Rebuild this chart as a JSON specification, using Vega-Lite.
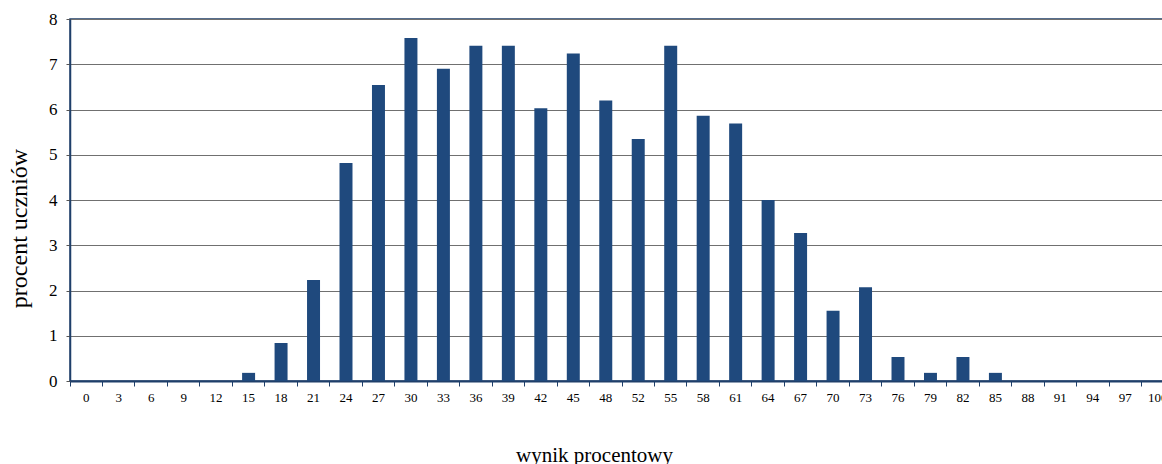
{
  "$schema": "https://vega.github.io/schema/vega-lite/v6.json",
  "autosize": {"type": "none"},
  "padding": {"left": 70, "top": 19, "right": 0, "bottom": 83},
  "width": 1104,
  "height": 362,
  "background": "white",
  "config": {
    "view": {"stroke": "#1F3F6A", "strokeWidth": 1.5},
    "font": "Liberation Serif"
  },
  "data": {
    "values": [
      {"wynik": "0", "procent": 0},
      {"wynik": "3", "procent": 0},
      {"wynik": "6", "procent": 0},
      {"wynik": "9", "procent": 0},
      {"wynik": "12", "procent": 0},
      {"wynik": "15", "procent": 0.18},
      {"wynik": "18", "procent": 0.84},
      {"wynik": "21", "procent": 2.23},
      {"wynik": "24", "procent": 4.82},
      {"wynik": "27", "procent": 6.54},
      {"wynik": "30", "procent": 7.58},
      {"wynik": "33", "procent": 6.9},
      {"wynik": "36", "procent": 7.41},
      {"wynik": "39", "procent": 7.41},
      {"wynik": "42", "procent": 6.03},
      {"wynik": "45", "procent": 7.24},
      {"wynik": "48", "procent": 6.2},
      {"wynik": "52", "procent": 5.35},
      {"wynik": "55", "procent": 7.41},
      {"wynik": "58", "procent": 5.86},
      {"wynik": "61", "procent": 5.69},
      {"wynik": "64", "procent": 4.0},
      {"wynik": "67", "procent": 3.27},
      {"wynik": "70", "procent": 1.55},
      {"wynik": "73", "procent": 2.07},
      {"wynik": "76", "procent": 0.53},
      {"wynik": "79", "procent": 0.18},
      {"wynik": "82", "procent": 0.53},
      {"wynik": "85", "procent": 0.18},
      {"wynik": "88", "procent": 0},
      {"wynik": "91", "procent": 0},
      {"wynik": "94", "procent": 0},
      {"wynik": "97", "procent": 0},
      {"wynik": "100", "procent": 0}
    ]
  },
  "mark": {"type": "bar", "color": "#1F497D", "width": {"band": 0.4}},
  "encoding": {
    "x": {
      "field": "wynik",
      "type": "ordinal",
      "sort": null,
      "scale": {"paddingInner": 0, "paddingOuter": 0},
      "axis": {
        "title": "wynik procentowy",
        "titleFont": "Liberation Serif",
        "titleFontSize": 21,
        "titleFontWeight": "normal",
        "titleColor": "black",
        "titleX": 524,
        "titleY": 80,
        "titleBaseline": "alphabetic",
        "titleAnchor": "middle",
        "titleAlign": "center",
        "labelAngle": 0,
        "labelFont": "Liberation Serif",
        "labelFontSize": 13,
        "labelColor": "black",
        "labelPadding": 5,
        "labelOverlap": false,
        "bandPosition": 0,
        "tickSize": 5,
        "tickColor": "#1F3F6A",
        "domainColor": "#1F3F6A",
        "domainWidth": 2,
        "grid": false
      }
    },
    "y": {
      "field": "procent",
      "type": "quantitative",
      "scale": {"domain": [0, 8], "nice": false},
      "axis": {
        "title": "procent uczniów",
        "titleFont": "Liberation Serif",
        "titleFontSize": 24,
        "titleFontWeight": "normal",
        "titleColor": "black",
        "titlePadding": 17,
        "titleY": 209,
        "values": [0, 1, 2, 3, 4, 5, 6, 7, 8],
        "labelFont": "Liberation Serif",
        "labelFontSize": 17,
        "labelColor": "black",
        "labelPadding": 9,
        "tickSize": 4,
        "tickColor": "#555555",
        "domainColor": "#1F3F6A",
        "domainWidth": 1.5,
        "grid": true,
        "gridColor": "#707070",
        "gridWidth": 1.2
      }
    }
  }
}
